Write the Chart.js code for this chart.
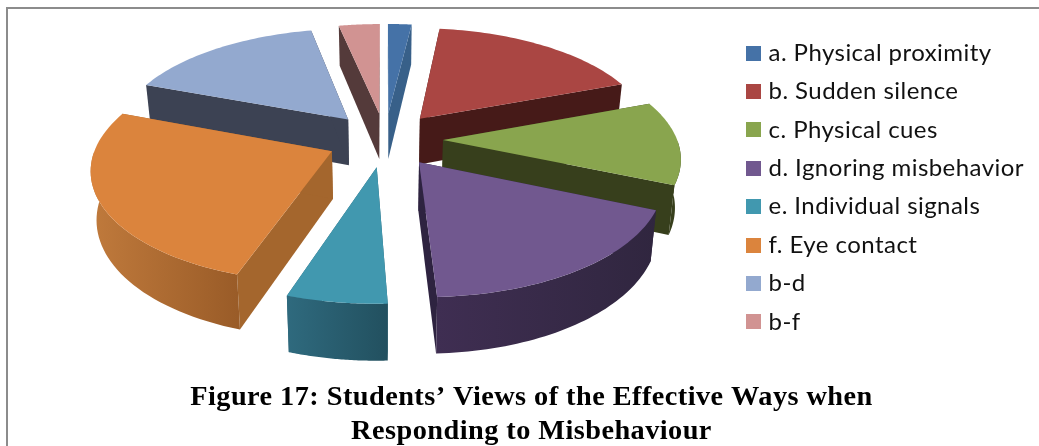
<!DOCTYPE html>
<html>
<head>
<meta charset="utf-8">
<style>
  html, body { margin: 0; background: #fff; overflow: hidden; }
  #frame { position: absolute; left: 6px; top: 7px; width: 1033px; height: 439px; border: solid #8c8c8c; border-width: 2px 0 0 2px; box-sizing: border-box; }
  canvas { position: absolute; left: 0; top: 0; }
</style>
</head>
<body>
<canvas id="pie-chart" width="1039" height="446"></canvas>
<div id="frame"></div>
<script src="https://cdn.jsdelivr.net/npm/chart.js@4"></script>
<script>
  const categories = [
    'a. Physical proximity', 'b. Sudden silence', 'c. Physical cues', 'd. Ignoring misbehavior',
    'e. Individual signals', 'f. Eye contact', 'b-d', 'b-f',
  ];
  const values = [1.9, 17.4, 12.1, 17.9, 5.8, 25.6, 16, 3.3];

  const topColors = ['#4572a7', '#aa4643', '#89a54e', '#71588f', '#4198af', '#db843d', '#93a9cf', '#d19392'];
  const cutColors = ['#386089', '#461a18', '#373f1c', '#2e2340', '#2c6375', '#a4662d', '#3c4253', '#543a3a'];
  const rimLeft = ['#386089', '#5a2220', '#373f1c', '#3f2e52', '#2f6a7e', '#c07a3c', '#4f5a73', '#6b4a4a'];
  const rimRight = ['#2f5070', '#461a18', '#373f1c', '#30263f', '#22505f', '#9a5c28', '#3c4253', '#543a3a'];

  // tilted view of the pie, fitted to the corners in the picture
  const VIEW = { cx: 385, cy: 139.5, squash: 0.465, persp: 0.0006, depth: 47, taper: 0.98 };

  function project(x, y) {
    const w = 1 / (1 + VIEW.persp * y);
    return { x: VIEW.cx + x * w, y: VIEW.cy - VIEW.squash * y * w, w: w };
  }

  function polygon(ctx, pts, fill) {
    ctx.beginPath();
    pts.forEach((p, i) => (i ? ctx.lineTo(p.x, p.y) : ctx.moveTo(p.x, p.y)));
    ctx.closePath();
    ctx.fillStyle = fill;
    ctx.fill();
  }

  const lower = p => ({
    x: VIEW.cx + (p.x - VIEW.cx) * VIEW.taper,
    y: p.y + VIEW.depth * p.w,
  });

  function drawSlice(ctx, arc, i) {
    const start = arc.startAngle + Math.PI / 2;
    const end = arc.endAngle + Math.PI / 2;
    const mid = (start + end) / 2;
    const off = arc.options.offset;
    const ox = off * Math.sin(mid);
    const oy = off * Math.cos(mid);
    const apex = project(ox, oy);

    const rim = [];
    const front = [];
    const steps = 48;
    for (let s = 0; s <= steps; s++) {
      const a = start + (end - start) * s / steps;
      const p = project(ox + arc.outerRadius * Math.sin(a), oy + arc.outerRadius * Math.cos(a));
      rim.push(p);
      if (Math.cos(a) < 0) front.push(p);
    }
    const first = rim[0];
    const last = rim[steps];

    polygon(ctx, [apex, first, lower(first), lower(apex)], cutColors[i]);
    polygon(ctx, [apex, last, lower(last), lower(apex)], cutColors[i]);

    if (front.length > 1) {
      const xs = front.map(p => p.x);
      const grad = ctx.createLinearGradient(Math.min(...xs), 0, Math.max(...xs), 0);
      grad.addColorStop(0, rimLeft[i]);
      grad.addColorStop(1, rimRight[i]);
      polygon(ctx, front.concat(front.map(lower).reverse()), grad);
    }

    polygon(ctx, [apex].concat(rim), arc.options.backgroundColor);
  }

  // Chart.js has no 3D pie, so the arcs it lays out get drawn through the view above
  const tiltedPie = {
    id: 'tiltedPie',
    // the canvas resize wipes the context state, so the spacing goes on here
    beforeLayout(chart) {
      chart.ctx.letterSpacing = '0.45px';
    },
    beforeDatasetDraw(chart, args) {
      const ctx = chart.ctx;
      const arcs = args.meta.data.map((arc, i) => ({ arc, i }));
      const depthOf = a => Math.cos((a.arc.startAngle + a.arc.endAngle) / 2 + Math.PI / 2);
      arcs.sort((p, q) => depthOf(q) - depthOf(p));
      ctx.save();
      arcs.forEach(a => drawSlice(ctx, a.arc, a.i));
      ctx.restore();
      return false;
    },
  };

  function swatch(color) {
    const c = document.createElement('canvas');
    c.width = 15;
    c.height = 15;
    const g = c.getContext('2d');
    g.fillStyle = color;
    g.fillRect(0, 0, 15, 15);
    return c;
  }

  const ctx = document.getElementById('pie-chart').getContext('2d');

  new Chart(ctx, {
    type: 'pie',
    plugins: [tiltedPie],
    data: {
      labels: categories,
      datasets: [{ data: values, backgroundColor: topColors, borderWidth: 0, offset: 58 }],
    },
    options: {
      responsive: false,
      animation: false,
      radius: 234,
      layout: { padding: { left: 29, right: 5 } },
      plugins: {
        tooltip: { enabled: false },
        legend: {
          position: 'right',
          fullSize: false,
          labels: {
            font: { family: 'Lato', size: 24 },
            color: '#111',
            usePointStyle: true,
            pointStyleWidth: 7,
            boxHeight: 15,
            padding: 14.4,
            generateLabels(chart) {
              const items = Chart.overrides.pie.plugins.legend.labels.generateLabels(chart);
              items.forEach(item => { item.pointStyle = swatch(item.fillStyle); });
              return items;
            },
          },
        },
        title: {
          display: true,
          position: 'bottom',
          text: ['Figure 17: Students’ Views of the Effective Ways when', 'Responding to Misbehaviour'],
          color: '#000',
          font: { family: 'Liberation Serif', size: 28.3, weight: 'bold', lineHeight: 1.2 },
          padding: { top: 6, bottom: -3 },
        },
      },
    },
  });
</script>
</body>
</html>
